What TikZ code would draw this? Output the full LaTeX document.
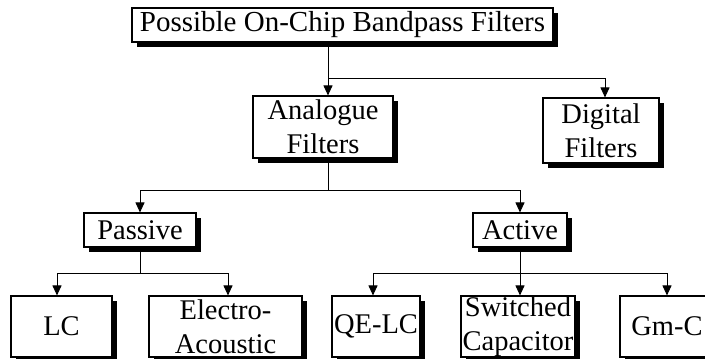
\documentclass[tikz,border=0pt]{standalone}
\usepackage{fontspec}
\setmainfont{Liberation Serif}
\usetikzlibrary{arrows.meta,shadows}

\begin{document}
\begin{tikzpicture}[x=1pt, y=-1pt,
    filterbox/.style={draw, line width=1.1pt, fill=white, align=center, inner sep=0pt,
        font=\fontsize{28.5}{34}\selectfont,
        drop shadow={shadow xshift=5pt, shadow yshift=-5pt, fill=black, opacity=1}},
    arr/.style={line width=0.9pt, -{Triangle[length=10pt, width=9pt]}},
    link/.style={line width=0.9pt}]
% Set the page size (the last boxes run off the edge)
\path[use as bounding box, clip] (0,0) rectangle (705,359);

% Top level
\node[filterbox, minimum width=421, minimum height=34, font=\fontsize{29}{34}\selectfont]
    (top) at (342.5,25) {Possible On-Chip Bandpass Filters};

% Second level
\node[filterbox, minimum width=140, minimum height=62] (analog) at (323,127) {Analogue\\Filters};
\node[filterbox, minimum width=116, minimum height=65] (digital) at (601,130.5) {Digital\\Filters};

% Third level
\node[filterbox, minimum width=112, minimum height=34] (passive) at (140,230) {Passive};
\node[filterbox, minimum width=94, minimum height=34] (active) at (520,230) {Active};

% Bottom level
\node[filterbox, minimum width=101, minimum height=61] (lc) at (61.5,326.5) {LC};
\node[filterbox, minimum width=153, minimum height=61] (acoustic) at (225.5,326.5) {Electro-\\Acoustic};
\node[filterbox, minimum width=88, minimum height=61] (qelc) at (376,326.5) {QE-LC};
\node[filterbox, minimum width=114, minimum height=61] (switched) at (518,326.5) {Switched\\Capacitor};
\node[filterbox, minimum width=94, minimum height=61] (gmc) at (667,326.5) {Gm-C};

% Branch points
\coordinate (split1) at (328,78);
\coordinate (split2) at (328,190);
\coordinate (split3) at (140,273);
\coordinate (split4) at (520,273);

% Connectors
\draw[arr] ([xshift=5pt]analog.north |- top.south) -- ([xshift=5pt]analog.north);
\draw[arr] (split1) -| ([xshift=4pt]digital.north);
\draw[link] ([xshift=5pt]analog.south) -- (split2);
\draw[arr] (split2) -| (passive.north);
\draw[arr] (split2) -| (active.north);
\draw[link] (passive.south) -- (split3);
\draw[arr] (split3) -| ([xshift=-4.5pt]lc.north);
\draw[arr] (split3) -| ([xshift=2.5pt]acoustic.north);
\draw[link] (active.south) -- (split4);
\draw[arr] (split4) -| ([xshift=-3pt]qelc.north);
\draw[arr] (split4) -- ([xshift=2pt]switched.north);
\draw[arr] (split4) -| (gmc.north);
\end{tikzpicture}
\end{document}
